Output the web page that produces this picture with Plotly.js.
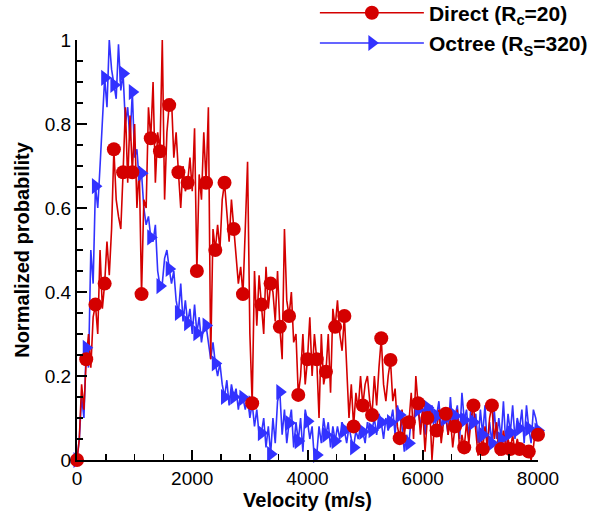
<!DOCTYPE html>
<html>
<head>
<meta charset="utf-8">
<script src="https://cdn.plot.ly/plotly-3.0.1.min.js"></script>
<style>html,body{margin:0;padding:0;background:#fff;}#chart{width:600px;height:515px;}</style>
</head>
<body>
<div id="chart"></div>
<script>
// Velocity grid (m/s), 40 m/s bins from 0 to 8000
var velocity = [];
for (var k = 0; k <= 200; k++) velocity.push(k * 40);

// Direct (Rc=20) normalized probability
var directProb = [
0,0.05,0.18,0.12, 0.24,0.30,0.22,0.34, 0.37,0.30,0.50,0.36, 0.42,0.52,0.44,0.55,
0.74,0.62,0.58,0.55, 0.685,0.84,0.66,0.82, 0.685,0.80,0.60,0.70, 0.395,0.62,0.60,0.84,
0.766,0.90,0.66,0.78, 0.735,1.0,0.62,0.78, 0.845,0.86,0.72,0.78, 0.685,0.60,0.70,0.64,
0.66,0.72,0.64,0.79, 0.45,0.68,0.62,0.78, 0.66,0.84,0.24,0.55, 0.50,0.56,0.50,0.62,
0.66,0.58,0.52,0.62, 0.55,0.48,0.42,0.46, 0.395,0.55,0.71,0.30, 0.135,0.45,0.32,0.44,
0.37,0.30,0.46,0.36, 0.42,0.40,0.33,0.45, 0.317,0.24,0.55,0.38, 0.343,0.40,0.28,0.30,
0.155,0.20,0.30,0.18, 0.24,0.34,0.20,0.30, 0.24,0.10,0.30,0.18, 0.21,0.30,0.16,0.36,
0.317,0.38,0.30,0.26, 0.343,0.22,0.10,0.18, 0.08,0.16,0.12,0.20, 0.13,0.18,0.20,0.14,
0.107,0.20,0.13,0.22, 0.29,0.18,0.14,0.20, 0.238,0.14,0.17,0.08, 0.052,0.12,0.06,0.10,
0.09,0.16,0.05,0.20, 0.135,0.06,0.12,0.02, 0.10,0.13,0.00,0.08, 0.07,0.12,0.04,0.09,
0.11,0.06,0.10,0.03, 0.08,0.12,0.02,0.06, 0.03,0.09,0.04,0.10, 0.13,0.06,0.01,0.07,
0.026,0.08,0.03,0.10, 0.13,0.05,0.09,0.01, 0.026,0.07,0.03,0.05, 0.026,0.06,0.02,0.05,
0.026,0.04,0.01,0.03, 0.02,0.00,0.03,0.08, 0.06
];

// Octree (Rs=320) normalized probability
var octreeProb = [
0,0.05,0.15,0.10, 0.267,0.22,0.50,0.42, 0.652,0.60,0.70,0.82, 0.91,0.84,1.0,0.93,
0.893,0.86,0.99,0.88, 0.92,0.80,0.84,0.76, 0.876,0.72,0.74,0.66, 0.683,0.60,0.56,0.58,
0.53,0.52,0.56,0.45, 0.414,0.42,0.48,0.50, 0.455,0.42,0.45,0.38, 0.35,0.42,0.33,0.38,
0.326,0.36,0.30,0.37, 0.302,0.34,0.28,0.32, 0.32,0.28,0.24,0.28, 0.23,0.20,0.23,0.18,
0.15,0.19,0.13,0.18, 0.15,0.17,0.12,0.16, 0.148,0.12,0.15,0.10, 0.135,0.08,0.12,0.06,
0.064,0.10,0.03,0.08, 0.014,0.10,0.04,0.14, 0.162,0.06,0.12,0.04, 0.088,0.12,0.03,0.09,
0.045,0.10,0.02,0.12, 0.092,0.05,0.08,0.00, 0.012,0.08,0.04,0.10, 0.06,0.09,0.03,0.08,
0.045,0.08,0.05,0.09, 0.071,0.04,0.08,0.05, 0.03,0.07,0.05,0.08, 0.067,0.04,0.09,0.06,
0.071,0.10,0.06,0.11, 0.09,0.05,0.10,0.07, 0.09,0.12,0.06,0.13, 0.107,0.08,0.02,0.06,
0.04,0.10,0.07,0.14, 0.12,0.08,0.12,0.06, 0.125,0.09,0.13,0.06, 0.105,0.14,0.07,0.12,
0.10,0.06,0.15,0.08, 0.105,0.13,0.05,0.16, 0.095,0.12,0.05,0.14, 0.09,0.11,0.04,0.12,
0.06,0.13,0.03,0.09, 0.04,0.12,0.05,0.10, 0.05,0.14,0.04,0.11, 0.065,0.13,0.05,0.10,
0.075,0.12,0.04,0.13, 0.075,0.04,0.12,0.10, 0.07
];

var seriesNames = ['<b>Direct (R<sub>c</sub>=20)</b>', '<b>Octree (R<sub>S</sub>=320)</b>'];
var markerEvery = 4;
var xTickVals = [0, 2000, 4000, 6000, 8000];
var yTickVals = [0, 0.2, 0.4, 0.6, 0.8, 1];
var yTickText = ['0', '0.2', '0.4', '0.6', '0.8', '1'];

var red = 'rgb(212,0,0)';
var blue = 'rgb(50,50,255)';

function every(arr) { return arr.filter(function (_, i) { return i % markerEvery === 0; }); }

// legend proxies: a single point far below the visible y range (clipped, never drawn)
var proxyX = [velocity[0]];
var proxyY = [-10];

var traces = [
  {x: velocity, y: octreeProb, mode: 'lines', line: {color: blue, width: 1.6}, showlegend: false, hoverinfo: 'skip'},
  {x: velocity, y: directProb, mode: 'lines', line: {color: red, width: 1.6}, showlegend: false, hoverinfo: 'skip'},
  {x: every(velocity), y: every(octreeProb), mode: 'markers', marker: {symbol: 'triangle-right', size: 14, color: blue}, showlegend: false, cliponaxis: false},
  {x: every(velocity), y: every(directProb), mode: 'markers', marker: {symbol: 'circle', size: 14, color: red}, showlegend: false, cliponaxis: false},
  {x: proxyX, y: proxyY, mode: 'lines+markers', name: seriesNames[0], line: {color: red, width: 1.6}, marker: {symbol: 'circle', size: 14, color: red}, showlegend: true},
  {x: proxyX, y: proxyY, mode: 'lines+markers', name: seriesNames[1], line: {color: blue, width: 1.6}, marker: {symbol: 'triangle-right', size: 14, color: blue}, showlegend: true}
];

var fontFam = 'Liberation Sans, Arial, Helvetica, sans-serif';

var layout = {
  width: 600, height: 515,
  margin: {l: 77, r: 62, t: 40, b: 55, autoexpand: false},
  paper_bgcolor: '#fff', plot_bgcolor: '#fff',
  font: {family: fontFam, color: '#000', size: 19},
  showlegend: true,
  legend: {x: 0.516, xanchor: 'left', y: 1.113, yanchor: 'top', bgcolor: 'rgba(0,0,0,0)',
           font: {family: fontFam, size: 21, color: '#000'}, itemwidth: 104, tracegroupgap: 0},
  xaxis: {
    range: [0, 8000], showgrid: false, zeroline: false, showline: true, linecolor: '#000', linewidth: 2,
    ticks: 'inside', ticklen: 10, tickwidth: 2, tickcolor: '#000', tickvals: xTickVals,
    tickfont: {size: 19, family: fontFam}, mirror: false,
    minor: {dtick: 500, ticks: 'inside', ticklen: 6, tickwidth: 1.5, tickcolor: '#000', showgrid: false},
    title: {text: '<b>Velocity (m/s)</b>', font: {size: 20, family: fontFam}, standoff: 0}
  },
  yaxis: {
    range: [0, 1], showgrid: false, zeroline: false, showline: true, linecolor: '#000', linewidth: 2,
    ticks: 'inside', ticklen: 10, tickwidth: 2, tickcolor: '#000', tickvals: yTickVals, ticktext: yTickText,
    tickfont: {size: 19, family: fontFam}, mirror: false,
    minor: {dtick: 0.05, ticks: 'inside', ticklen: 6, tickwidth: 1.5, tickcolor: '#000', showgrid: false},
    title: {text: '<b>Normalized probability</b>', font: {size: 20, family: fontFam}, standoff: 10}
  }
};

Plotly.newPlot('chart', traces, layout, {displayModeBar: false, staticPlot: true});
</script>
</body>
</html>
